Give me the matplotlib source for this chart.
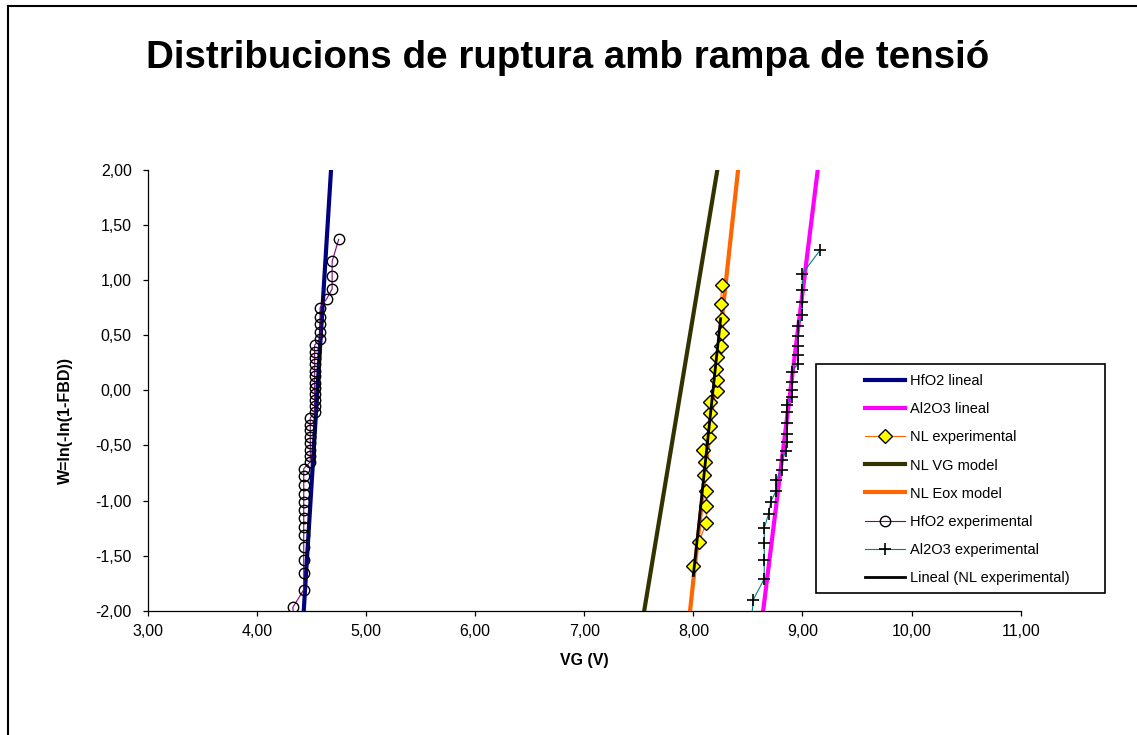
import matplotlib
matplotlib.use('Agg')
import matplotlib.pyplot as plt
from matplotlib.ticker import FuncFormatter, MultipleLocator
from matplotlib.patches import Rectangle
from matplotlib.lines import Line2D

plt.rcParams['font.family'] = ['Liberation Sans', 'DejaVu Sans']

# Lineal fits and models (end points at W=-2 and W=2)
lin_w = [-2.0, 2.0]
hfo2_lin_vg = [4.43, 4.68]
al2o3_lin_vg = [8.64, 9.14]
nl_vg_model = [7.55, 8.22]
nl_eox_model = [7.97, 8.41]

# NL experimental points
nl_vg = [8.00, 8.05, 8.12, 8.12, 8.12, 8.10, 8.11, 8.09, 8.14, 8.15, 8.15,
         8.15, 8.22, 8.22, 8.21, 8.22, 8.25, 8.26, 8.26, 8.25, 8.26]
nl_w = [-1.59, -1.38, -1.20, -1.05, -0.91, -0.77, -0.65, -0.54, -0.42, -0.32, -0.21,
        -0.11, -0.01, 0.09, 0.19, 0.30, 0.40, 0.52, 0.65, 0.78, 0.96]

# trendline of NL experimental
nl_fit_vg = [8.00, 8.25]
nl_fit_w = [-1.68, 0.65]

# HfO2 experimental points
hfo2_vg = [4.34, 4.33,
           4.43, 4.43, 4.43, 4.43, 4.43, 4.43, 4.43, 4.43, 4.43, 4.43, 4.43, 4.43, 4.43,
           4.49, 4.49, 4.49, 4.49, 4.49, 4.49, 4.49, 4.49,
           4.53, 4.53, 4.53, 4.53, 4.53, 4.53, 4.53, 4.53, 4.53, 4.53, 4.53, 4.53,
           4.58, 4.58, 4.58, 4.58, 4.58,
           4.64, 4.69, 4.69, 4.69, 4.75]
hfo2_w = [-2.08, -1.97,
          -1.81, -1.66, -1.54, -1.42, -1.31, -1.24, -1.16, -1.09, -1.01, -0.94, -0.86, -0.78, -0.71,
          -0.65, -0.60, -0.54, -0.48, -0.42, -0.36, -0.31, -0.25,
          -0.20, -0.14, -0.09, -0.03, 0.02, 0.07, 0.13, 0.18, 0.24, 0.29, 0.35, 0.41,
          0.47, 0.53, 0.60, 0.67, 0.75,
          0.83, 0.92, 1.04, 1.17, 1.37]

# Al2O3 experimental points
al_vg = [8.53, 8.55, 8.65, 8.65, 8.65, 8.65, 8.69, 8.71, 8.76, 8.76, 8.81, 8.81,
         8.85, 8.86, 8.86, 8.86, 8.86, 8.86, 8.90, 8.90, 8.90, 8.90,
         8.96, 8.96, 8.96, 8.96, 8.96, 9.00, 9.00, 9.00, 9.00, 9.16]
al_w = [-2.10, -1.90, -1.71, -1.54, -1.39, -1.25, -1.12, -1.01, -0.91, -0.81, -0.72, -0.63,
        -0.55, -0.47, -0.40, -0.30, -0.20, -0.13, -0.06, 0.00, 0.08, 0.17,
        0.24, 0.32, 0.40, 0.49, 0.58, 0.68, 0.80, 0.91, 1.06, 1.27]

W, H = 1137, 735
fig = plt.figure(figsize=(W / 100, H / 100), dpi=100)
ax = fig.add_axes([147.7 / W, 1 - 610.7 / H, 873 / W, 440.7 / H])

ax.plot(hfo2_lin_vg, lin_w, color='#000080', lw=3, label='HfO2 lineal', zorder=2)
ax.plot(al2o3_lin_vg, lin_w, color='#FF00FF', lw=3, label='Al2O3 lineal', zorder=2)
ax.plot(nl_vg, nl_w, color='#FF6600', lw=0.8, marker='D', ms=7, mfc='#FFFF00',
        mec='black', mew=1, label='NL experimental', zorder=4)
ax.plot(nl_vg_model, lin_w, color='#333300', lw=3, label='NL VG model', zorder=2)
ax.plot(nl_eox_model, lin_w, color='#FF6600', lw=3, label='NL Eox model', zorder=3)
ax.plot(hfo2_vg, hfo2_w, color='#800080', lw=0.8, marker='o', ms=7.5, mfc='none',
        mec='black', mew=1, label='HfO2 experimental', zorder=4)
ax.plot(al_vg, al_w, color='#008080', lw=0.8, marker='+', ms=8, mec='black',
        mew=1.2, label='Al2O3 experimental', zorder=4)
ax.plot(nl_fit_vg, nl_fit_w, color='black', lw=2, label='Lineal (NL experimental)', zorder=5)

ax.set_xlim(3, 11)
ax.set_ylim(-2, 2)
ax.xaxis.set_major_locator(MultipleLocator(1))
ax.yaxis.set_major_locator(MultipleLocator(0.5))
comma = FuncFormatter(lambda v, p: ('%.2f' % v).replace('.', ','))
ax.xaxis.set_major_formatter(comma)
ax.yaxis.set_major_formatter(comma)
ax.spines['top'].set_visible(False)
ax.spines['right'].set_visible(False)
for s in ['left', 'bottom']:
    ax.spines[s].set_linewidth(0.9)
ax.tick_params(axis='both', direction='out', length=3.5, width=0.9, labelsize=11.5)
ax.tick_params(axis='y', pad=8)
ax.tick_params(axis='x', pad=6)

ax.set_xlabel('VG (V)', fontsize=11.5, fontweight='bold', labelpad=10)
fig.text(65 / W, 1 - 421 / H, 'W=ln(-ln(1-FBD))', rotation=90, fontsize=11.5,
         fontweight='bold', ha='center', va='center')

fig.text(568 / W, 1 - 58 / H, 'Distribucions de ruptura amb rampa de tensió',
         fontsize=27.7, fontweight='bold', ha='center', va='center')

# legend frame and entries
fig.add_artist(Rectangle((816 / W, 1 - 593.3 / H), 289 / W, 229 / H, transform=fig.transFigure,
                         fill=False, edgecolor='black', lw=1.2))
fig.legend(*ax.get_legend_handles_labels(), loc='upper left',
           bbox_to_anchor=(858 / W, 1 - 367 / H), frameon=False, borderpad=0,
           fontsize=10.5, handlelength=2.75, handletextpad=0.35, labelspacing=0.965)

# chart area border
fig.add_artist(Line2D([8 / W, 1], [1 - 6 / H, 1 - 6 / H], transform=fig.transFigure,
                      color='black', lw=1.5))
fig.add_artist(Line2D([8 / W, 8 / W], [0, 1 - 6 / H], transform=fig.transFigure,
                      color='black', lw=1.5))

fig.savefig('out.png', dpi=100)
